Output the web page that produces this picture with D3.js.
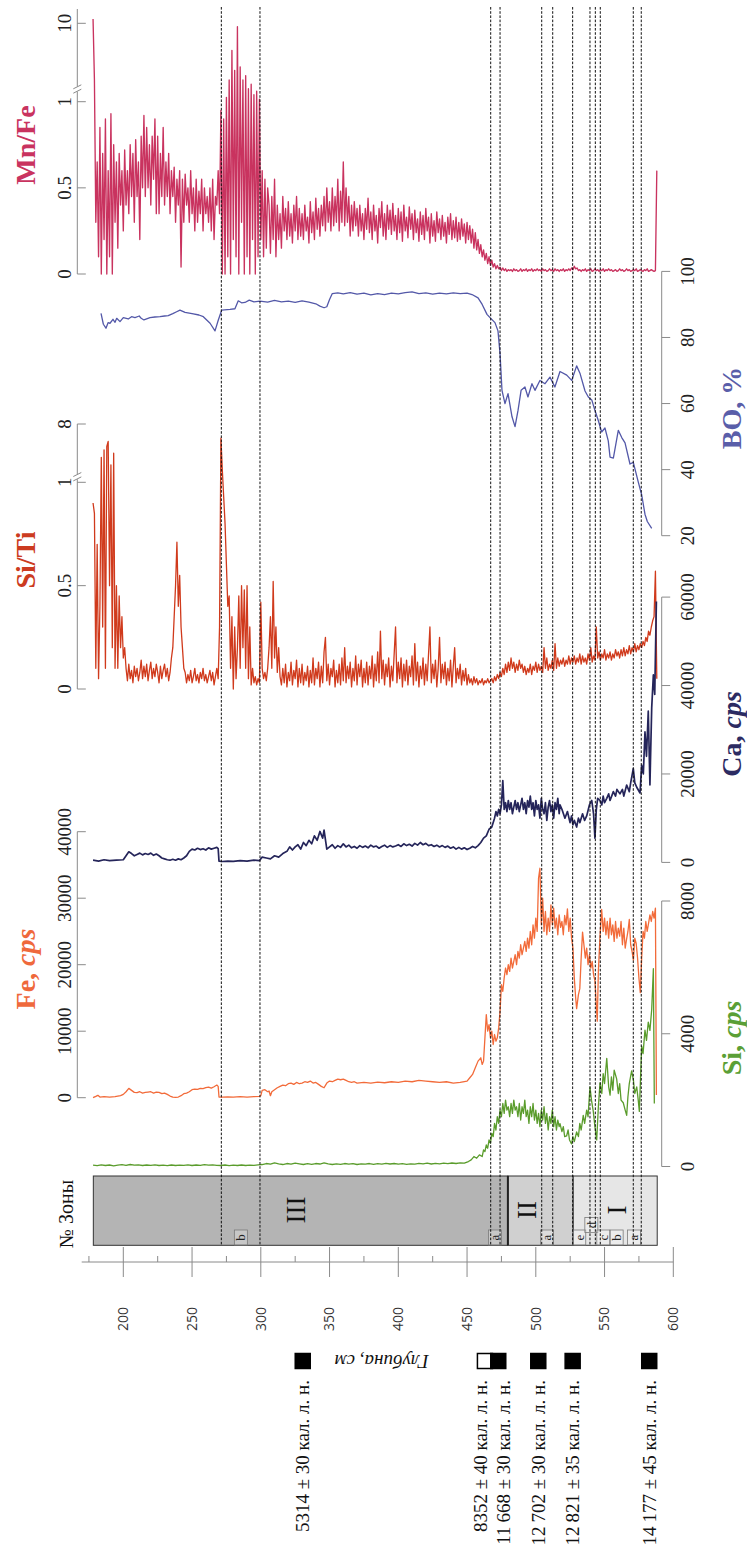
<!DOCTYPE html>
<html><head><meta charset="utf-8">
<script src="https://cdn.jsdelivr.net/npm/d3@7"></script>
<style>body{margin:0;background:#fff}svg{display:block}</style>
</head><body>
<svg id="c" width="747" height="1544"></svg>
<script>
// ---------------- DATA ----------------
const depthTicks = [200,250,300,350,400,450,500,550,600];
const depthMinor = [175,225,275,325,375,425,475,525,575];
const mnfeTicks = [0,0.5,1,10];
const sitiTicks = [0,0.5,1,8];
const boTicks = [20,40,60,80,100];
const caTicks = [0,20000,40000,60000];
const feTicks = [0,10000,20000,30000,40000];
const siTicks = [0,4000,8000];

// Mn/Fe, 1 cm steps from 178 cm
const mnfeStart = 178;
const mnfe = [
10.5,3.5,0.3,0.65,0.1,0.85,0,0.7,0.2,0.9,
0,0.6,0.1,0.93,0,0.75,0.3,0.65,0.15,0.7,
0.4,0.6,0.25,0.72,0.4,0.6,0.35,0.75,0.45,0.7,
0.3,0.78,0.45,0.65,0.2,0.8,0.5,0.92,0.45,0.85,
0.5,0.75,0.4,0.8,0.55,0.9,0.35,0.8,0.35,0.7,
0.45,0.85,0.4,0.65,0.45,0.7,0.35,0.6,0.45,0.62,
0.3,0.55,0.4,0.6,0.04,0.55,0.3,0.58,0.4,0.5,
0.3,0.6,0.35,0.5,0.25,0.55,0.3,0.48,0.35,0.55,
0.25,0.5,0.35,0.45,0.3,0.5,0.25,0.55,0.2,0.45,
0.4,0.6,0.35,0.95,0,0.9,0,1.5,0.1,3.5,
0,6.9,0.2,4.6,0.1,9.6,0,5,0.3,3.5,
0,4,0.1,2.5,0,3,0.2,1.8,0,2.2,
0.1,1.3,0.2,0.6,0.1,0.55,0.15,0.5,0.4,0.12,
0.45,0.2,0.55,0.1,0.4,0.2,0.35,0.15,0.45,0.25,
0.38,0.2,0.42,0.22,0.35,0.18,0.4,0.25,0.45,0.2,
0.38,0.22,0.35,0.2,0.4,0.25,0.33,0.18,0.42,0.24,
0.36,0.2,0.44,0.26,0.38,0.22,0.4,0.28,0.45,0.25,
0.5,0.3,0.42,0.25,0.5,0.28,0.45,0.3,0.55,0.25,
0.48,0.3,0.65,0.28,0.5,0.3,0.45,0.22,0.4,0.25,
0.42,0.28,0.38,0.22,0.4,0.25,0.35,0.2,0.38,0.26,
0.44,0.24,0.36,0.2,0.4,0.25,0.34,0.18,0.38,0.27,
0.42,0.22,0.35,0.2,0.4,0.26,0.37,0.23,0.41,0.25,
0.34,0.2,0.38,0.24,0.36,0.19,0.4,0.25,0.33,0.21,
0.39,0.26,0.35,0.2,0.37,0.24,0.32,0.19,0.36,0.23,
0.34,0.2,0.38,0.25,0.33,0.18,0.35,0.22,0.31,0.19,
0.36,0.24,0.32,0.2,0.34,0.22,0.3,0.18,0.33,0.23,
0.35,0.2,0.31,0.21,0.33,0.19,0.3,0.2,0.32,0.22,
0.29,0.18,0.3,0.2,0.28,0.18,0.26,0.15,0.24,0.14,
0.2,0.12,0.17,0.1,0.14,0.08,0.12,0.06,0.1,0.05,
0.08,0.04,0.06,0.03,0.05,0.03,0.04,0.02,0.035,0.02,
0.03,0.015,0.025,0.02,0.025,0.015,0.03,0.02,0.025,0.015,
0.02,0.03,0.015,0.025,0.02,0.03,0.015,0.025,0.02,0.03,
0.015,0.025,0.02,0.03,0.02,0.025,0.015,0.03,0.02,0.025,
0.015,0.02,0.03,0.02,0.025,0.015,0.03,0.02,0.025,0.015,
0.025,0.02,0.03,0.015,0.025,0.02,0.03,0.02,0.035,0.025,
0.045,0.03,0.035,0.02,0.025,0.015,0.025,0.02,0.03,0.015,
0.025,0.02,0.03,0.015,0.02,0.03,0.02,0.025,0.015,0.025,
0.02,0.03,0.015,0.025,0.02,0.03,0.02,0.025,0.015,0.02,
0.025,0.015,0.02,0.03,0.02,0.025,0.015,0.02,0.03,0.02,
0.025,0.015,0.02,0.025,0.02,0.03,0.015,0.02,0.025,0.02,
0.015,0.025,0.02,0.03,0.015,0.02,0.025,0.02,0.015,0.02,
0.6];

// Si/Ti, 1 cm steps from 178 cm
const sitiStart = 178;
const siti = [
0.9,0.85,0.1,0.7,0.05,0.4,4.0,0.3,4.9,0.1,
5.3,5.9,0.5,3.1,0.2,4.5,0.1,0.5,0.1,0.45,
0.2,0.35,0.15,0.2,0.1,0.04,0.12,0.05,0.09,0.03,
0.11,0.06,0.1,0.04,0.08,0.14,0.05,0.11,0.06,0.12,
0.04,0.09,0.13,0.05,0.1,0.06,0.12,0.08,0.03,0.11,
0.05,0.09,0.12,0.06,0.1,0.04,0.08,0.15,0.2,0.35,
0.5,0.71,0.4,0.55,0.3,0.2,0.1,0.08,0.03,0.07,
0.04,0.09,0.03,0.06,0.1,0.04,0.07,0.03,0.08,0.05,
0.1,0.04,0.07,0.03,0.06,0.09,0.04,0.08,0.02,0.06,
0.1,0.05,0.3,6.3,2.5,0.93,0.8,0.6,0.4,0.45,
0.1,0.35,0,0.3,0.05,0.2,0.45,0.1,0.5,0.2,
0.48,0.1,0.5,0.05,0.3,0.02,0.1,0.03,0.06,0.02,
0.05,0.03,0.42,0.1,0.05,0.08,0.04,0.1,0.2,0.35,
0.1,0.52,0.15,0.3,0.08,0.2,0.06,0.02,0.1,0.03,
0.12,0.01,0.08,0.04,0.13,0.02,0.09,0.05,0.14,0.01,
0.1,0.03,0.12,0.02,0.08,0.04,0.11,0.01,0.09,0.03,
0.15,0.02,0.1,0.05,0.13,0.01,0.11,0.03,0.18,0.25,
0.04,0.12,0.02,0.1,0.06,0.14,0.01,0.09,0.03,0.12,
0.02,0.15,0.04,0.2,0.03,0.11,0.05,0.13,0.01,0.1,
0.04,0.16,0.02,0.12,0.06,0.14,0.01,0.1,0.03,0.13,
0.02,0.11,0.05,0.16,0.01,0.12,0.04,0.18,0.03,0.28,
0.05,0.14,0.02,0.12,0.06,0.15,0.01,0.11,0.04,0.17,
0.3,0.03,0.13,0.05,0.15,0.01,0.12,0.04,0.14,0.02,
0.11,0.06,0.16,0.02,0.22,0.04,0.13,0.01,0.11,0.05,
0.15,0.02,0.12,0.04,0.17,0.3,0.03,0.12,0.05,0.14,
0.01,0.1,0.25,0.03,0.12,0.05,0.13,0.02,0.1,0.04,
0.14,0.01,0.11,0.2,0.03,0.1,0.05,0.12,0.02,0.09,
0.04,0.1,0.02,0.07,0.03,0.05,0.02,0.06,0.03,0.05,
0.02,0.04,0.03,0.05,0.02,0.04,0.03,0.05,0.03,0.04,
0.05,0.03,0.06,0.04,0.07,0.05,0.08,0.06,0.1,0.07,
0.12,0.08,0.13,0.09,0.15,0.1,0.13,0.08,0.12,0.09,
0.14,0.1,0.12,0.08,0.11,0.07,0.1,0.08,0.12,0.07,
0.11,0.09,0.13,0.08,0.12,0.09,0.11,0.08,0.2,0.1,
0.15,0.09,0.12,0.1,0.14,0.09,0.22,0.1,0.15,0.11,
0.14,0.12,0.15,0.11,0.14,0.12,0.16,0.12,0.15,0.13,
0.16,0.12,0.15,0.13,0.17,0.12,0.16,0.13,0.15,0.12,
0.17,0.14,0.2,0.13,0.16,0.14,0.3,0.15,0.18,0.14,
0.17,0.15,0.19,0.14,0.17,0.15,0.18,0.14,0.17,0.15,
0.19,0.16,0.18,0.15,0.19,0.16,0.2,0.16,0.19,0.17,
0.21,0.17,0.2,0.18,0.22,0.18,0.21,0.19,0.22,0.2,
0.23,0.21,0.25,0.23,0.28,0.26,0.3,0.33,0.35,0.57,
0.05];

// BO, % : [depth cm, value]
const bo = [[183.8,87.3],[185.5,84],[187.4,82.8],[189,84.5],[190.3,84.3],[192.5,85.5],[194,84.6],[195.2,85.8],[197.6,84.8],[200,86],[203.6,85.6],[206,86.3],[208.5,86],[211.6,86.5],[213,85.8],[215,85.3],[219.4,86],[223,86.2],[226.7,86.3],[230,86.5],[232.7,86.6],[236,87.2],[238.8,87.8],[241.2,88.3],[244.9,87.6],[250,87.2],[255,86.8],[258.2,86.3],[263.1,84.3],[266.7,82],[269.1,85.3],[271.6,88.3],[277.6,88.5],[281.2,88.7],[283.6,91.1],[286,90.5],[288.5,90.6],[291.6,91.3],[295,90.8],[299.4,91],[305,90.7],[310,91.2],[315,90.8],[320,91],[325,90.6],[330,91.1],[335,90.7],[340,90.2],[343,89.5],[346,89],[348,89.3],[350,91.5],[352,93.3],[356,93.5],[360,93.2],[365,93.6],[370,93.1],[375,93.4],[380,92.9],[385,93.3],[390,93],[395,93.4],[400,93.2],[405,93.6],[410,93.8],[415,93.3],[420,93.5],[425,93.1],[430,93.4],[435,93.2],[440,93.5],[445,93.3],[450,93.4],[453.6,93],[458,92],[461,90],[464.5,87],[466.7,86],[470.3,84.5],[472.5,82],[474,75],[475.4,64],[477.6,60],[479.8,63],[482.7,56],[484.9,53],[487.1,58],[489.3,64],[492.1,65],[494.3,62],[497.2,66],[499.4,64],[503,67],[506.7,66],[510.3,68],[513.9,65],[517.6,69.7],[522.5,68.6],[526.1,67],[529.7,71.4],[532.1,69.2],[535.8,63.8],[538.2,62],[540.7,61.1],[543.1,57.8],[545.5,54.8],[547.9,51.4],[550.3,52.6],[552.7,48.7],[554,43.8],[556.4,43.5],[560,51.9],[562.5,49.7],[564.9,48.1],[568.5,41.7],[570.9,42.2],[574.5,36.3],[577,32.4],[579.4,26.5],[581.1,24.3],[584.3,22.2]];

// Ca, cps : [depth cm, value]
const ca = [[178,500],[182,300],[186,600],[190,400],[195,500],[200,600],[202,1500],[204,2400],[206,2000],[208,1500],[210,1800],[212,2100],[214,1700],[216,2000],[218,1800],[220,2100],[222,1600],[224,1900],[226,1500],[228,1000],[230,800],[232,600],[234,500],[236,700],[238,500],[240,800],[242,600],[244,1000],[246,1500],[248,2500],[250,3000],[252,2800],[254,3200],[256,2900],[258,3100],[260,2800],[262,3300],[264,3000],[266,3200],[268,3400],[269,3100],[269.6,300],[272,200],[276,300],[280,250],[285,400],[290,300],[295,500],[299,400],[301,1200],[304,1000],[307,800],[310,1500],[313,1200],[316,2000],[319,2500],[321,3500],[323,2800],[325,3500],[327,4000],[329,3000],[331,4500],[333,3800],[335,5000],[337,4200],[339,6000],[341,5000],[343,7000],[345,5500],[346,7300],[348,3000],[350,3500],[352,4000],[354,3200],[356,3800],[358,3400],[360,4200],[362,3500],[364,3900],[366,3300],[368,3600],[370,3200],[372,3800],[374,3400],[376,3700],[378,3300],[380,3900],[382,3500],[384,3700],[386,3200],[388,3600],[390,3900],[392,3400],[394,3800],[396,3500],[398,3700],[400,4000],[402,3600],[404,4200],[406,3800],[408,4100],[410,3700],[412,4300],[414,3900],[416,4500],[418,4000],[420,4300],[422,3800],[424,4000],[426,3600],[428,3900],[430,3500],[432,3800],[434,3400],[436,3700],[438,3200],[440,3500],[442,3000],[444,3400],[446,3000],[448,3300],[450,2900],[452,3200],[454,3600],[456,3300],[458,3800],[460,4500],[462,5500],[464,6000],[466,7500],[468,8000],[470,10000],[471,11500],[472,10500],[473,12000],[474,11000],[475,13000],[476,18500],[477,12000],[478,13500],[479,11500],[480,14000],[481,12000],[482,13500],[483,11000],[484,12500],[485,14000],[486,12000],[487,13500],[488,11500],[489,13000],[490,14500],[491,12000],[492,13500],[493,11000],[494,14000],[495,12500],[496,15000],[497,12000],[498,13500],[499,10500],[500,14000],[501,12000],[502,13000],[503,10000],[504,14500],[505,12000],[506,11000],[507,13500],[508,9500],[509,12500],[510,14000],[511,11500],[512,13000],[513,10000],[514,13500],[515,12000],[516,14500],[517,11000],[517.6,13000],[519,12000],[521.2,10000],[523,11500],[524.9,9000],[526,10500],[527,8500],[528,9500],[529.7,8000],[531,10000],[532.1,9000],[534,11000],[535.5,9500],[537,10500],[539,13000],[540.7,14000],[542,11000],[543,5500],[544,12000],[545,14500],[546.7,14000],[548,13000],[549,15000],[550,13500],[551.6,14500],[553,15500],[554,14000],[556.4,16000],[558,15000],[559,16500],[561.2,15500],[563,16500],[564,15000],[566.1,17500],[568,16000],[569,18000],[570.9,21200],[572,18000],[573.4,17000],[575.8,15700],[577,22000],[578.2,20000],[579.4,29500],[580.5,24000],[581.8,34200],[583,17500],[584.3,35000],[585.5,42400],[586.5,38000],[587.7,59000]];

// Fe, cps : [depth cm, value]
const fe = [[178,0],[180,200],[181.5,360],[183,100],[186,150],[190,100],[194,150],[198,300],[200,500],[202,900],[204,1400],[206,1100],[208,800],[210,750],[212,900],[214,700],[216,800],[218,850],[220,900],[222,700],[224,850],[226,800],[228,600],[230,700],[232,500],[234,250],[236,100],[238,50],[240,100],[242,300],[244,600],[246,700],[248,900],[250,1200],[252,1300],[254,1250],[256,1400],[258,1350],[260,1500],[262,1600],[264,1450],[266,1650],[268,1900],[269,1700],[269.6,100],[272,80],[276,120],[280,100],[285,150],[290,100],[295,150],[299,200],[300,300],[301,1100],[303,1200],[305,900],[306,1000],[307,300],[308,900],[310,1200],[312,1500],[314,1700],[316,1900],[318,1800],[320,2100],[322,2200],[324,2000],[326,2300],[328,2100],[330,2200],[332,2400],[334,2300],[336,2500],[338,2200],[340,2300],[342,2000],[344,1700],[346,1500],[348,2200],[350,2500],[352,2400],[354,2600],[356,2800],[358,2700],[360,2800],[362,2600],[364,2400],[366,2300],[368,2400],[370,2200],[375,2300],[380,2200],[385,2350],[390,2250],[395,2400],[400,2300],[405,2500],[410,2400],[415,2600],[420,2500],[425,2400],[430,2300],[435,2400],[440,2200],[445,2300],[450,2500],[452,3000],[454,3500],[456,4500],[458,5500],[460,6000],[461,5000],[462,5500],[463,9000],[464,12500],[465,10000],[466,11000],[467,9000],[468,10000],[469,8000],[470,9500],[471,8500],[472,9000],[473,10500],[474,13000],[475,17000],[476,16000],[477,18000],[478,19500],[479,18500],[480,20000],[481,19000],[482,21000],[483,19500],[484,20500],[485,21500],[486,20000],[487,22000],[488,21000],[489,23000],[490,21500],[491,22500],[492,23500],[493,22000],[494,24000],[495,22500],[496,25000],[497,23000],[498,26000],[499,24000],[500,27000],[501,25000],[502,33000],[503,34500],[504,26000],[505,30000],[506,25000],[507,28000],[508,24500],[509,27000],[510,25000],[511,29000],[512,26000],[513,28500],[514,25500],[515,27000],[516,24500],[517,27500],[518,25600],[519,26500],[520,24500],[521,27400],[522,26000],[523,28400],[524,25000],[525,27000],[526,24000],[527,22500],[528,18000],[529,15000],[529.7,13400],[531,15500],[532,16400],[533,21000],[534,24900],[535,23000],[536,21000],[537,22500],[538,20000],[539,21500],[540,19500],[541,20500],[542,18500],[543,17600],[544,14000],[544.7,11500],[545.5,19000],[546.7,24300],[547.9,28300],[549,25000],[550,27000],[551,24500],[552,26500],[553,24000],[554,27000],[555,24500],[556,26000],[557,23500],[558,26500],[559,24000],[560,25500],[561,24300],[562,26500],[563,23000],[564,25500],[565,22500],[566,23800],[567,25000],[568,26800],[569,23000],[570,22000],[571,20700],[572,24000],[573,23200],[574,21000],[575,18000],[576,15800],[577,21000],[578,25000],[579,24000],[580,26500],[581,25000],[582,26200],[583,27500],[584,26500],[585,28000],[586,27000],[587,28500],[587.7,400]];

// Si, cps : [depth cm, value]
const si = [[178,40],[181,25],[184,50],[187,30],[190,45],[193,20],[196,40],[199,55],[202,35],[205,60],[208,40],[211,50],[214,30],[217,45],[220,35],[223,50],[226,30],[229,40],[232,25],[235,45],[238,30],[241,40],[244,35],[247,50],[250,30],[253,45],[256,35],[259,55],[262,40],[265,50],[268,35],[271,30],[274,45],[277,25],[280,40],[283,30],[286,45],[289,30],[292,40],[295,35],[298,50],[301,60],[304,90],[307,70],[310,110],[313,80],[316,60],[319,90],[322,70],[325,100],[328,80],[331,60],[334,85],[337,65],[340,90],[343,75],[346,110],[349,80],[352,60],[355,80],[358,65],[361,90],[364,70],[367,85],[370,60],[373,80],[376,70],[379,90],[382,65],[385,85],[388,70],[391,95],[394,75],[397,90],[400,70],[403,85],[406,65],[409,80],[412,70],[415,95],[418,80],[421,100],[424,75],[427,95],[430,80],[433,100],[436,85],[439,105],[442,90],[445,110],[448,100],[451,150],[453,200],[455,300],[457,250],[459,350],[461,300],[462,500],[463,450],[464,650],[465,550],[466,800],[467,700],[468,1000],[469,900],[470,1300],[471,1100],[472,1500],[473,1300],[474,1700],[475,1500],[476,1900],[477,1600],[478,2000],[479,1700],[480,1800],[481,1500],[482,1900],[483,1600],[484,2000],[485,1700],[486,1800],[487,1500],[488,1900],[489,1400],[490,1800],[491,1600],[492,2000],[493,1500],[494,1700],[495,1300],[496,1800],[497,1500],[498,1900],[499,1400],[500,1700],[501,1300],[502,1600],[503,1200],[504,1700],[505,1400],[506,1800],[507,1300],[508,1600],[509,1100],[510,1500],[511,1300],[512,1700],[513,1200],[514,1500],[515,1100],[516,1400],[517,1200],[517.6,1290],[519,1050],[520,1200],[521,900],[522.4,920],[523.5,1100],[524.5,800],[526,680],[527,900],[528,750],[529.7,1040],[531,900],[532,1300],[533,1100],[534.5,1540],[535.5,1300],[537,1700],[538,1500],[539.4,2400],[540.5,2000],[541.8,1660],[543,1200],[544.3,800],[545.5,1800],[546.7,2520],[548,2200],[549,2800],[550,2500],[551.6,3260],[553,2400],[554,2150],[555,2700],[556,2300],[557,2900],[558.8,2640],[560,2200],[561,2500],[562,2000],[563.6,1920],[565,1700],[566.1,1540],[567,2100],[568,2500],[569.7,2880],[571,2600],[572,2200],[573.4,2400],[574.5,2000],[575.3,1660],[577,3630],[578,3400],[579.4,4110],[580.5,3800],[581.8,4350],[583,4100],[584.3,4730],[585.5,5960],[586.2,1900]];

// Zones
const zoneNames = ["III","II","I"];
const zoneFrom = [178.2, 479.7, 527.2];
const zoneTo = [479.7, 527.2, 588.3];
const zoneLabelDepth = [325, 493, 558.8];
const subzoneNames = ["b","a","a","e","d","c","b","a"];
const subzoneDepths = [285.5, 470.3, 508.1, 531.6, 540.4, 549.1, 558.8, 571.4];
const subzoneRaised = [0,0,0,0,1,0,0,0];
const boundaryDepths = [271.3, 299.4, 467.2, 474.0, 504.3, 512.3, 526.8, 539.4, 543.3, 546.9, 570.9, 576.7];

// Radiocarbon dates
const dateDepths = [330.5, 463, 472.7, 501.8, 526.8, 582.5];
const dateLabels = ["5314 ± 30 кал. л. н.","8352 ± 40 кал. л. н.","11\u2009668 ± 30 кал. л. н.","12\u2009702 ± 30 кал. л. н.","12\u2009821 ± 35 кал. л. н.","14\u2009177 ± 45 кал. л. н."];
const dateOpen = [false,true,false,false,false,false];

// ---------------- DRAW ----------------
const SERIF = "'Liberation Serif','Times New Roman',serif";
const SANS = "'Open Sans','Liberation Sans',sans-serif";
const AXIS = "#8a8a8a";
const svg = d3.select("#c");
const x = d3.scaleLinear().domain([200,600]).range([123.3,673.3]);

const yMnFe = d3.scaleLinear().domain([0,1,10]).range([274,101.7,23.3]);
const ySiTi = d3.scaleLinear().domain([0,1,8]).range([689,482.3,424]);
const yBO = d3.scaleLinear().domain([20,100]).range([535.7,271.4]);
const yCa = d3.scaleLinear().domain([0,60000]).range([862.4,597.1]);
const yFe = d3.scaleLinear().domain([0,40000]).range([1097.7,831.7]);
const ySi = d3.scaleLinear().domain([0,8000]).range([1166.5,901]);

const col = {mnfe:"#c9335f", siti:"#d03a1c", bo:"#5358a8", ca:"#25255a", fe:"#f26b3a", si:"#5a9c2c"};

// zone box
const gz = svg.append("g");
zoneNames.forEach((n,i)=>{
  gz.append("rect").attr("x",x(zoneFrom[i])).attr("y",1176).attr("width",x(zoneTo[i])-x(zoneFrom[i])).attr("height",69.3)
    .attr("fill",["#b4b4b4","#d0d0d0","#e6e6e6"][i]).attr("stroke","#333").attr("stroke-width",1);
  gz.append("text").attr("transform",`translate(${x(zoneLabelDepth[i])},1210) rotate(-90)`)
    .attr("text-anchor","middle").attr("dy","0.35em").attr("font-family",SERIF).attr("font-size",27).attr("fill","#111").text(n);
});
gz.append("line").attr("x1",x(zoneTo[0])).attr("x2",x(zoneTo[0])).attr("y1",1176).attr("y2",1245.3).attr("stroke","#222").attr("stroke-width",2);
gz.append("text").attr("transform","translate(66,1214) rotate(-90)").attr("text-anchor","middle").attr("dy","0.35em")
  .attr("font-family",SERIF).attr("font-size",20).attr("fill","#111").text("№ Зоны");

// axes helper
function vAxis(scale, ticks, ax, labX, top){
  const g = svg.append("g");
  g.append("line").attr("x1",ax).attr("x2",ax).attr("y1",top).attr("y2",scale(ticks[0])).attr("stroke",AXIS).attr("stroke-width",1);
  ticks.forEach(t=>{
    g.append("line").attr("x1",ax).attr("x2",ax+8.5).attr("y1",scale(t)).attr("y2",scale(t)).attr("stroke",AXIS).attr("stroke-width",1);
    g.append("text").attr("transform",`translate(${labX},${scale(t)}) rotate(-90)`).attr("text-anchor","middle").attr("dy","0.35em")
      .attr("font-family",SERIF).attr("font-size",19).attr("fill","#222").text(t);
  });
  return g;
}
function brk(ax, y){
  const g = svg.append("g");
  g.append("rect").attr("x",ax-2).attr("y",y-2.5).attr("width",4).attr("height",5).attr("fill","#fff");
  [-2.2,2.2].forEach(o=>g.append("line").attr("x1",ax-4).attr("y1",y+o+2).attr("x2",ax+4).attr("y2",y+o-2).attr("stroke",AXIS).attr("stroke-width",1));
}
vAxis(yMnFe, mnfeTicks, 77.3, 64, 9); brk(77.3, 89);
vAxis(ySiTi, sitiTicks, 77.3, 64, 424); brk(77.3, 476.7);
vAxis(yFe, feTicks, 77.3, 64, 831.7);
vAxis(yBO, boTicks, 661.7, 687, 271.4);
vAxis(yCa, caTicks, 661.7, 687, 597.1);
vAxis(ySi, siTicks, 661.7, 687, 901);

// titles
function title(parts, color, cx, cy){
  const t = svg.append("text").attr("transform",`translate(${cx},${cy}) rotate(-90)`).attr("text-anchor","middle").attr("dy","0.35em")
    .attr("font-family",SERIF).attr("font-size",28).attr("font-weight","bold").attr("fill",color);
  parts.forEach(p=>t.append("tspan").attr("font-style",p[1]?"italic":"normal").text(p[0]));
}
title([["Mn/Fe",0]], col.mnfe, 25, 145);
title([["Si/Ti",0]], "#cc3b20", 25, 560);
title([["Fe, ",0],["cps",1]], "#ef693c", 25, 969);
title([["BO, %",0]], "#5a5ea9", 731, 408);
title([["Ca, ",0],["cps",1]], "#2c2b62", 731, 734);
title([["Si, ",0],["cps",1]], "#5b9f36", 731, 1038);

// series
const seq = (start, arr) => arr.map((v,i)=>[start+i, v]);
function series(data, yS, color, w){
  svg.append("path").datum(data).attr("fill","none").attr("stroke",color).attr("stroke-width",w).attr("stroke-linejoin","round")
    .attr("d", d3.line().x(d=>x(d[0])).y(d=>yS(d[1])));
}
series(seq(mnfeStart, mnfe), yMnFe, col.mnfe, 1.35);
series(bo, yBO, col.bo, 1.3);
series(seq(sitiStart, siti), ySiTi, col.siti, 1.3);
series(ca, yCa, col.ca, 1.7);
series(fe, yFe, col.fe, 1.3);
series(si, ySi, col.si, 1.3);

// subzone labels
subzoneNames.forEach((n,i)=>{
  const cx = x(subzoneDepths[i]);
  const y0 = subzoneRaised[i] ? 1217.5 : 1230;
  svg.append("rect").attr("x",cx-6.5).attr("y",y0).attr("width",13).attr("height",15)
    .attr("fill","rgba(255,255,255,0.25)").attr("stroke","#7a7a7a").attr("stroke-width",0.8);
  svg.append("text").attr("transform",`translate(${cx},${y0+7.5}) rotate(-90)`).attr("text-anchor","middle").attr("dy","0.33em")
    .attr("font-family",SERIF).attr("font-size",13).attr("fill","#222").text(n);
});

// boundary dashed lines
boundaryDepths.forEach(d=>{
  svg.append("line").attr("x1",x(d)).attr("x2",x(d)).attr("y1",7).attr("y2",1245)
    .attr("stroke","#111").attr("stroke-width",1).attr("stroke-dasharray","2.6,1.6");
});

// depth axis
const gd = svg.append("g");
gd.append("line").attr("x1",81.7).attr("x2",x(600)).attr("y1",1262).attr("y2",1262).attr("stroke",AXIS);
depthTicks.forEach(t=>{
  gd.append("line").attr("x1",x(t)).attr("x2",x(t)).attr("y1",1247).attr("y2",1277).attr("stroke",AXIS);
  gd.append("text").attr("transform",`translate(${x(t)},1319) rotate(-90)`).attr("text-anchor","middle").attr("dy","0.35em")
    .attr("font-family",SANS).attr("font-size",14).attr("fill","#333").text(t);
});
depthMinor.forEach(t=>{
  gd.append("line").attr("x1",x(t)).attr("x2",x(t)).attr("y1",1256).attr("y2",1262).attr("stroke",AXIS);
});
svg.append("text").attr("transform","translate(381.7,1362) rotate(180)").attr("text-anchor","middle").attr("dy","0.35em")
  .attr("font-family",SERIF).attr("font-style","italic").attr("font-size",19).attr("fill","#111").text("Глубина, см");

// dates
const pos = dateDepths.map(d=>x(d));
for(let k=0;k<10;k++) for(let i=1;i<pos.length;i++){
  if(pos[i]-pos[i-1] < 23.5){ const m=(pos[i]+pos[i-1])/2; pos[i-1]=m-11.75; pos[i]=m+11.75; }
}
dateDepths.forEach((d,i)=>{
  svg.append("rect").attr("x",x(d)-7.5).attr("y",1353.5).attr("width",15).attr("height",15)
    .attr("fill",dateOpen[i]?"#fff":"#000").attr("stroke","#000").attr("stroke-width",1.5);
  svg.append("text").attr("transform",`translate(${pos[i]},1380) rotate(-90)`).attr("text-anchor","end").attr("dy","0.35em")
    .attr("font-family",SERIF).attr("font-size",19).attr("fill","#111").text(dateLabels[i]);
});
</script>
</body></html>
